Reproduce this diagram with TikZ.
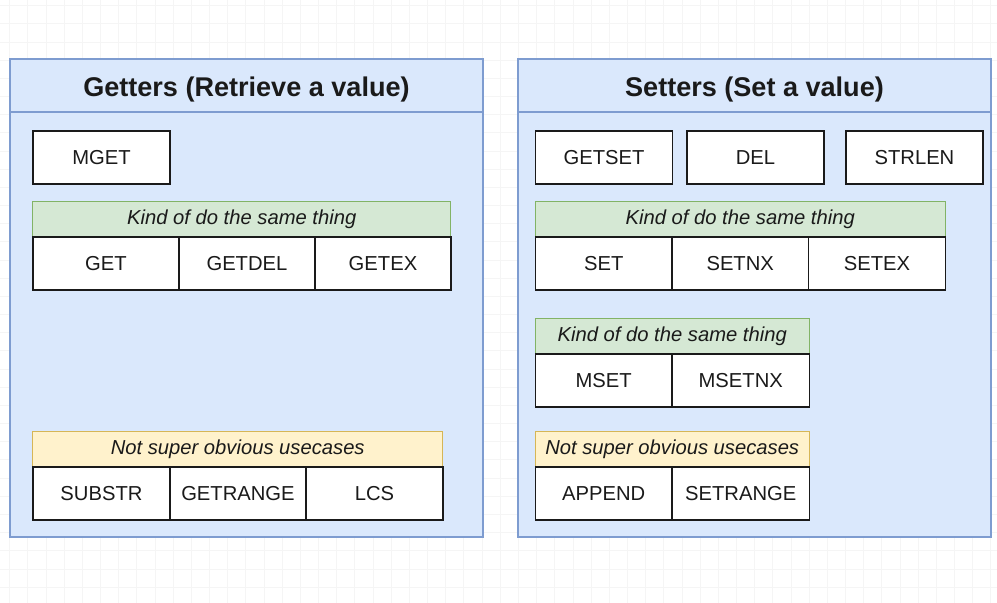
\documentclass[tikz,border=0pt]{standalone}
\usepackage{fontspec}
\setmainfont{Liberation Sans}
\usetikzlibrary{positioning}

\definecolor{boxblue}{HTML}{DAE8FC}
\definecolor{lineblue}{HTML}{7E9CD0}
\definecolor{boxgreen}{HTML}{D5E8D4}
\definecolor{linegreen}{HTML}{82B366}
\definecolor{boxyellow}{HTML}{FFF2CC}
\definecolor{lineyellow}{HTML}{D6B656}
\definecolor{ink}{HTML}{1A1A1A}

\tikzset{
  group/.style={draw=lineblue,fill=boxblue,line width=0.9pt},
  title/.style={font=\fontsize{15.4}{18}\selectfont\bfseries,text=ink},
  cell/.style={draw=ink,fill=white,line width=1.1pt,anchor=north west,inner sep=0pt,
    minimum height=10.6mm,font=\fontsize{11.5}{13}\selectfont,text=ink},
  note/.style={line width=0.8pt,anchor=north west,inner sep=0pt,minimum height=7mm,
    font=\fontsize{11.5}{13}\selectfont\itshape,text=ink},
  same/.style={note,draw=linegreen,fill=boxgreen},
  odd/.style={note,draw=lineyellow,fill=boxyellow}
}

\begin{document}
\begin{tikzpicture}[x=0.2mm,y=-0.2mm]
  \useasboundingbox[fill=white] (0,0) rectangle (997,603);

  % faint canvas grid
  \foreach \i in {0,...,54} {
    \draw[black!4,line width=0.3pt] ({9.5+18.17*\i},0) -- ({9.5+18.17*\i},603);
  }
  \foreach \j in {0,...,33} {
    \draw[black!4,line width=0.3pt] (0,{5.5+18.17*\j}) -- (997,{5.5+18.17*\j});
  }

  % Getters (left)
  \draw[group] (10,59) rectangle (483,537);
  \draw[lineblue,line width=0.9pt] (10,112) -- (483,112);
  \node[title] (gtitle) at (246.5,90) {Getters (Retrieve a value)};

  \node[cell,minimum width=27.4mm] (mget) at (32,130) {MGET};

  \node[same,minimum width=83.6mm] (gsame) at (32,201) {Kind of do the same thing};
  \node[cell,minimum width=29.2mm] (get) at (32,236) {GET};
  \node[cell,minimum width=27.2mm] (getdel) at (178,236) {GETDEL};
  \node[cell,minimum width=27.2mm] (getex) at (314,236) {GETEX};

  \node[odd,minimum width=82mm] (godd) at (32,431) {Not super obvious usecases};
  \node[cell,minimum width=27.4mm] (substr) at (32,466) {SUBSTR};
  \node[cell,minimum width=27.2mm] (getrange) at (169,466) {GETRANGE};
  \node[cell,minimum width=27.4mm] (lcs) at (305,466) {LCS};

  % Setters (right)
  \draw[group] (518,59) rectangle (991,537);
  \draw[lineblue,line width=0.9pt] (518,112) -- (991,112);
  \node[title] (stitle) at (754.5,90) {Setters (Set a value)};

  \node[cell,minimum width=27.4mm] (getset) at (534.5,130) {GETSET};
  \node[cell,minimum width=27.4mm] (del) at (686,130) {DEL};
  \node[cell,minimum width=27.4mm] (strlen) at (845,130) {STRLEN};

  \node[same,minimum width=82mm] (ssame) at (534.5,201) {Kind of do the same thing};
  \node[cell,minimum width=27.3mm] (set) at (534.5,236) {SET};
  \node[cell,minimum width=27.3mm] (setnx) at (671,236) {SETNX};
  \node[cell,minimum width=27.4mm] (setex) at (807.5,236) {SETEX};

  \node[same,minimum width=54.8mm] (msame) at (534.5,318) {Kind of do the same thing};
  \node[cell,minimum width=27.3mm] (mset) at (534.5,353) {MSET};
  \node[cell,minimum width=27.5mm] (msetnx) at (671,353) {MSETNX};

  \node[odd,minimum width=54.8mm] (sodd) at (534.5,431) {Not super obvious usecases};
  \node[cell,minimum width=27.3mm] (append) at (534.5,466) {APPEND};
  \node[cell,minimum width=27.5mm] (setrange) at (671,466) {SETRANGE};
\end{tikzpicture}
\end{document}
